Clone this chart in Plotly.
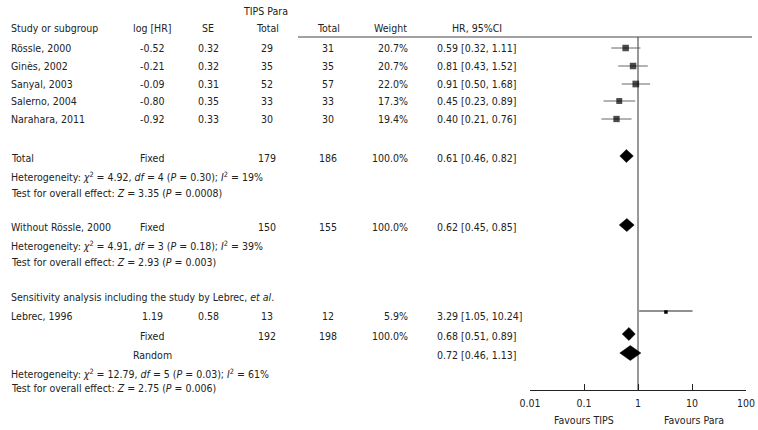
import numpy as np
import plotly.graph_objects as go

W, H = 758, 430

# ---------------- data ----------------
studies = ["Rössle, 2000", "Ginès, 2002", "Sanyal, 2003", "Salerno, 2004", "Narahara, 2011"]
log_hr = ["-0.52", "-0.21", "-0.09", "-0.80", "-0.92"]
se = ["0.32", "0.32", "0.31", "0.35", "0.33"]
tips_total = [29, 35, 52, 33, 30]
para_total = [31, 35, 57, 33, 30]
weight = [20.7, 20.7, 22.0, 17.3, 19.4]
hr = [0.59, 0.81, 0.91, 0.45, 0.40]
ci_lo = [0.32, 0.43, 0.50, 0.23, 0.21]
ci_hi = [1.11, 1.52, 1.68, 0.89, 0.76]

# pooled estimates
pooled_labels = ["Total", "Without Rössle, 2000", "", ""]
pooled_model = ["Fixed", "Fixed", "Fixed", "Random"]
pooled_tips = ["179", "150", "192", ""]
pooled_para = ["186", "155", "198", ""]
pooled_weight = ["100.0%", "100.0%", "100.0%", ""]
pooled_hr = [0.61, 0.62, 0.68, 0.72]
pooled_lo = [0.46, 0.45, 0.51, 0.46]
pooled_hi = [0.82, 0.85, 0.89, 1.13]

# sensitivity study
lebrec_name = "Lebrec, 1996"
lebrec_loghr = "1.19"
lebrec_se = "0.58"
lebrec_tips = 13
lebrec_para = 12
lebrec_weight = 5.9
lebrec_hr = 3.29
lebrec_lo = 1.05
lebrec_hi = 10.24

het_lines = [
    "Heterogeneity: <i>χ</i><sup>2</sup> = 4.92, <i>df</i> = 4 (<i>P</i> = 0.30); <i>I</i><sup>2</sup> = 19%",
    "Heterogeneity: <i>χ</i><sup>2</sup> = 4.91, <i>df</i> = 3 (<i>P</i> = 0.18); <i>I</i><sup>2</sup> = 39%",
    "Heterogeneity: <i>χ</i><sup>2</sup> = 12.79, <i>df</i> = 5 (<i>P</i> = 0.03); <i>I</i><sup>2</sup> = 61%",
]
test_lines = [
    "Test for overall effect: <i>Z</i> = 3.35 (<i>P</i> = 0.0008)",
    "Test for overall effect: <i>Z</i> = 2.93 (<i>P</i> = 0.003)",
    "Test for overall effect: <i>Z</i> = 2.75 (<i>P</i> = 0.006)",
]
tick_vals = [0.01, 0.1, 1, 10, 100]
tick_text = ["0.01", "0.1", "1", "10", "100"]

# ---------------- layout (pixel rows) ----------------
FONT = "Tahoma, 'DejaVu Sans Condensed', 'Liberation Sans', sans-serif"
FS = 10.5
TXT = "#222222"
study_rows = [48, 66, 84, 101, 119]
pooled_rows = [158, 227, 336, 355]
het_rows = [176, 245, 373]
test_rows = [193, 262, 388]
lebrec_row = 316
sens_row = 297

X_STUDY = 9
X_LOG = 152
X_SE = 208
X_TIPS = 267
X_PARA = 328
X_WEIGHT = 410
X_HR = 435

annotations = []


def txt(x, y, s, anchor="center", size=FS):
    annotations.append(dict(x=x / W, y=y, xref="paper", yref="y", text=s, showarrow=False,
                            xanchor=anchor, yanchor="middle",
                            font=dict(family=FONT, size=size, color=TXT)))


# header
txt(265, 11, "TIPS Para")
txt(X_STUDY, 28, "Study or subgroup", "left")
txt(X_LOG, 28, "log [HR]")
txt(X_SE, 28, "SE")
txt(X_TIPS, 28, "Total")
txt(X_PARA, 28, "Total")
txt(390, 28, "Weight")
txt(477, 28, "HR, 95%CI")

for i, name in enumerate(studies):
    y = study_rows[i]
    txt(X_STUDY, y, name, "left")
    txt(X_LOG, y, log_hr[i])
    txt(X_SE, y, se[i])
    txt(X_TIPS, y, str(tips_total[i]))
    txt(X_PARA, y, str(para_total[i]))
    txt(X_WEIGHT, y, f"{weight[i]:.1f}%", "right")
    txt(X_HR, y, f"{hr[i]:.2f} [{ci_lo[i]:.2f}, {ci_hi[i]:.2f}]", "left")

for i in range(4):
    y = pooled_rows[i]
    if pooled_labels[i]:
        txt(X_STUDY, y, pooled_labels[i], "left")
    txt(X_LOG, y, pooled_model[i])
    if pooled_tips[i]:
        txt(X_TIPS, y, pooled_tips[i])
        txt(X_PARA, y, pooled_para[i])
        txt(X_WEIGHT, y, pooled_weight[i], "right")
    txt(X_HR, y, f"{pooled_hr[i]:.2f} [{pooled_lo[i]:.2f}, {pooled_hi[i]:.2f}]", "left")

for i in range(3):
    txt(X_STUDY, het_rows[i], het_lines[i], "left")
    txt(X_STUDY, test_rows[i], test_lines[i], "left")

txt(X_STUDY, sens_row, "Sensitivity analysis including the study by Lebrec, <i>et al</i>.", "left")
txt(X_STUDY, lebrec_row, lebrec_name, "left")
txt(X_LOG, lebrec_row, lebrec_loghr)
txt(X_SE, lebrec_row, lebrec_se)
txt(X_TIPS, lebrec_row, str(lebrec_tips))
txt(X_PARA, lebrec_row, str(lebrec_para))
txt(X_WEIGHT, lebrec_row, f"{lebrec_weight:.1f}%", "right")
txt(X_HR, lebrec_row, f"{lebrec_hr:.2f} [{lebrec_lo:.2f}, {lebrec_hi:.2f}]", "left")

txt(584, 420, "Favours TIPS")
txt(694, 420, "Favours Para")

fig = go.Figure()

# reference line at HR = 1
fig.add_trace(go.Scatter(x=[1, 1], y=[37, 390], mode="lines",
                         line=dict(color="#333333", width=1), hoverinfo="skip"))

# study CIs
for i in range(len(studies)):
    fig.add_trace(go.Scatter(x=[ci_lo[i], ci_hi[i]], y=[study_rows[i]] * 2, mode="lines",
                             line=dict(color="#666666", width=1), hoverinfo="skip"))
fig.add_trace(go.Scatter(x=[lebrec_lo, lebrec_hi], y=[lebrec_row - 5] * 2, mode="lines",
                         line=dict(color="#222222", width=1), hoverinfo="skip"))

# study squares
sizes = [6.5 * np.sqrt(w / 20.7) for w in weight]
fig.add_trace(go.Scatter(x=hr, y=study_rows, mode="markers",
                         marker=dict(symbol="square", size=sizes, color="black",
                                     line=dict(width=0)), hoverinfo="skip"))
fig.add_trace(go.Scatter(x=[lebrec_hr], y=[lebrec_row - 4], mode="markers",
                         marker=dict(symbol="square", size=6.5 * np.sqrt(lebrec_weight / 20.7),
                                     color="black", line=dict(width=0)), hoverinfo="skip"))

# pooled diamonds
half_h = [6.5, 6.5, 6.5, 7.5]
for i in range(4):
    y = pooled_rows[i] - 2
    h = half_h[i]
    fig.add_trace(go.Scatter(x=[pooled_lo[i], pooled_hr[i], pooled_hi[i], pooled_hr[i], pooled_lo[i]],
                             y=[y, y - h, y, y + h, y], mode="lines", fill="toself",
                             fillcolor="black", line=dict(color="black", width=0.5),
                             hoverinfo="skip"))

# header rule
shapes = [dict(type="line", xref="paper", yref="y", x0=298 / W, x1=752 / W, y0=37, y1=37,
               line=dict(color="#444444", width=1))]

fig.update_layout(
    width=W, height=H,
    autosize=False,
    margin=dict(l=0, r=0, t=0, b=0, pad=0, autoexpand=False),
    paper_bgcolor="white", plot_bgcolor="white",
    showlegend=False,
    hovermode=False,
    annotations=annotations,
    shapes=shapes,
    xaxis=dict(type="log", domain=[530 / W, 746 / W], range=[-2, 2],
               anchor="free", position=1 - 390 / H, automargin=False,
               showline=True, linecolor="#222222", linewidth=1,
               ticks="inside", ticklen=6, tickcolor="#222222", tickwidth=1,
               tickvals=tick_vals, ticktext=tick_text, ticklabelstandoff=3,
               tickfont=dict(family=FONT, size=FS, color=TXT),
               showgrid=False, zeroline=False, fixedrange=True),
    yaxis=dict(range=[H, 0], domain=[0, 1], visible=False, showgrid=False, zeroline=False,
               automargin=False, fixedrange=True),
)

fig.write_html("out.html", config={"responsive": False, "displayModeBar": False, "staticPlot": True},
               post_script="document.body.style.margin='0';document.body.style.overflow='hidden';")
